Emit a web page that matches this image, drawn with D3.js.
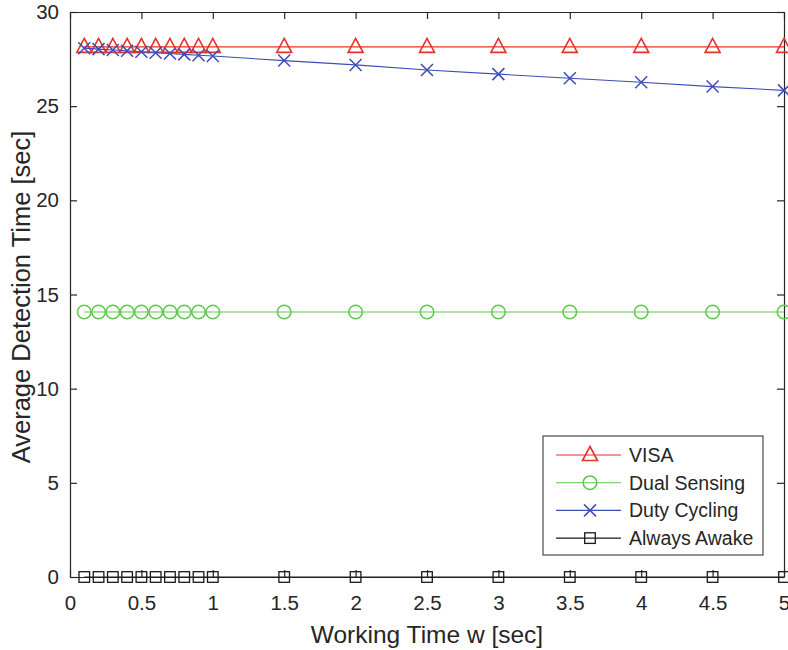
<!DOCTYPE html>
<html lang="en">
<head>
<meta charset="UTF-8">
<title>detection time</title>
<script src="https://cdn.jsdelivr.net/npm/d3@7"></script>
<style>
    body{ margin:0; background:#fff; }
    text{ font-family: "Liberation Sans", Arial, sans-serif; fill:#262626; }
</style>
</head>
<body>
<svg id="main" width="788" height="650"></svg>
<script>
    // working time w [sec]
    let workTime = [0.1, 0.2, 0.3, 0.4, 0.5, 0.6, 0.7, 0.8, 0.9, 1.0, 1.5, 2, 2.5, 3, 3.5, 4, 4.5, 5]
    let visa = [28.15, 28.15, 28.15, 28.15, 28.15, 28.15, 28.15, 28.15, 28.15, 28.15, 28.15, 28.15, 28.15, 28.15, 28.15, 28.15, 28.15, 28.15]
    let dualSensing = [14.07, 14.07, 14.07, 14.07, 14.07, 14.07, 14.07, 14.07, 14.07, 14.07, 14.07, 14.07, 14.07, 14.07, 14.07, 14.07, 14.07, 14.07]
    let dutyCycling = [28.08, 28.03, 27.98, 27.94, 27.89, 27.84, 27.8, 27.75, 27.7, 27.66, 27.42, 27.19, 26.92, 26.7, 26.48, 26.27, 26.04, 25.84]
    let alwaysAwake = [0, 0, 0, 0, 0, 0, 0, 0, 0, 0, 0, 0, 0, 0, 0, 0, 0, 0]
    let xTicks = [0, 0.5, 1, 1.5, 2, 2.5, 3, 3.5, 4, 4.5, 5]
    let yTicks = [0, 5, 10, 15, 20, 25, 30]
    let seriesNames = ["VISA", "Dual Sensing", "Duty Cycling", "Always Awake"]
    let seriesColors = ["#e63327", "#5cc94a", "#3b4db6", "#1a1a1a"]
    let seriesMarkers = ["triangle", "circle", "cross", "square"]

    let series = [visa, dualSensing, dutyCycling, alwaysAwake].map(function(vals, i){
        return {name: seriesNames[i], color: seriesColors[i], marker: seriesMarkers[i],
                points: vals.map((v, j) => ({x: workTime[j], y: v}))}
    })

    let mLeft = 70, mRight = 784, mTop = 12, mBottom = 577
    let svg = d3.select("#main")
    let x = d3.scaleLinear().domain([0, 5]).range([mLeft, mRight])
    let y = d3.scaleLinear().domain([0, 30]).range([mBottom, mTop])
    let axisColor = "#262626"

    // axes (box with ticks inside, on all sides)
    let gx = svg.append("g").attr("transform", `translate(0,${mBottom})`)
        .call(d3.axisBottom(x).tickValues(xTicks).tickSizeInner(-7).tickSizeOuter(0).tickPadding(18).tickFormat(d3.format("")))
    let gy = svg.append("g").attr("transform", `translate(${mLeft},0)`)
        .call(d3.axisLeft(y).tickValues(yTicks).tickSizeInner(-7).tickSizeOuter(0).tickPadding(11))
    let gx2 = svg.append("g").attr("transform", `translate(0,${mTop})`)
        .call(d3.axisTop(x).tickValues(xTicks).tickSizeInner(-7).tickSizeOuter(0).tickFormat(""))
    let gy2 = svg.append("g").attr("transform", `translate(${mRight},0)`)
        .call(d3.axisRight(y).tickValues(yTicks).tickSizeInner(-7).tickSizeOuter(0).tickFormat(""))
    ;[gx, gy, gx2, gy2].forEach(function(g){
        g.select(".domain").attr("stroke", axisColor).attr("stroke-width", 1.2)
        g.selectAll(".tick line").attr("stroke", axisColor).attr("stroke-width", 1.2)
        g.selectAll(".tick text").attr("font-size", 20.5).attr("fill", axisColor)
            .attr("font-family", "Liberation Sans, Arial, sans-serif")
    })

    // labels
    svg.append("text").attr("x", 427).attr("y", 643)
        .attr("text-anchor", "middle").attr("font-size", 24.5).text("Working Time w [sec]")
    svg.append("text").attr("transform", "translate(30,297) rotate(-90)")
        .attr("text-anchor", "middle").attr("font-size", 25.5).text("Average Detection Time [sec]")

    function drawMarker(g, type, color){
        if (type === "triangle") {
            g.append("path").attr("d", "M0,-8.5L7.5,5.5L-7.5,5.5Z")
                .attr("fill", "none").attr("stroke", color).attr("stroke-width", 1.6)
        } else if (type === "circle") {
            g.append("circle").attr("r", 6.8).attr("fill", "none").attr("stroke", color).attr("stroke-width", 1.5)
        } else if (type === "cross") {
            g.append("path").attr("d", "M-6,-6L6,6M-6,6L6,-6")
                .attr("fill", "none").attr("stroke", color).attr("stroke-width", 1.5)
        } else {
            g.append("rect").attr("x", -5.3).attr("y", -5.3).attr("width", 10.6).attr("height", 10.6)
                .attr("fill", "none").attr("stroke", color).attr("stroke-width", 1.3)
        }
    }

    let line = d3.line().x(d => x(d.x)).y(d => y(d.y))
    series.forEach(function(s){
        svg.append("path").datum(s.points).attr("d", line)
            .attr("fill", "none").attr("stroke", s.color).attr("stroke-width", 1.1)
        s.points.forEach(function(p){
            let g = svg.append("g").attr("transform", `translate(${x(p.x)},${y(p.y)})`)
            drawMarker(g, s.marker, s.color)
        })
    })

    // legend
    let legend = svg.append("g")
    legend.append("rect").attr("x", 543).attr("y", 436).attr("width", 220).attr("height", 119)
        .attr("fill", "#fff").attr("stroke", axisColor).attr("stroke-width", 1)
    series.forEach(function(s, i){
        let ly = 455 + i * 27.7
        legend.append("line").attr("x1", 556).attr("x2", 621).attr("y1", ly).attr("y2", ly)
            .attr("stroke", s.color).attr("stroke-width", 1.1)
        let g = legend.append("g").attr("transform", `translate(590,${ly})`)
        drawMarker(g, s.marker, s.color)
        legend.append("text").attr("x", 629).attr("y", ly + 7).attr("font-size", 19.5).text(s.name)
    })
</script>
</body>
</html>
